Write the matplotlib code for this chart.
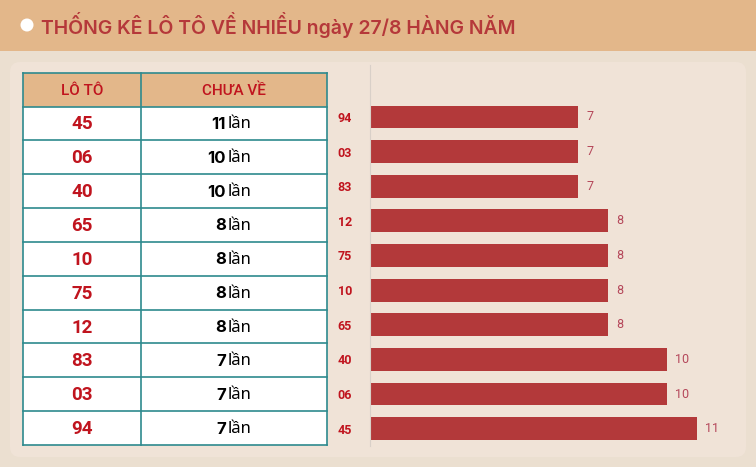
import matplotlib.pyplot as plt
from matplotlib.patches import Rectangle, FancyBboxPatch, Circle

# data (table order, top to bottom)
lo_to = ["45", "06", "40", "65", "10", "75", "12", "83", "03", "94"]
so_lan = [11, 10, 10, 8, 8, 8, 8, 7, 7, 7]
title = "THỐNG KÊ LÔ TÔ VỀ NHIỀU ngày 27/8 HÀNG NĂM"
headers = ["LÔ TÔ", "CHƯA VỀ"]

W, H = 756, 467
RED = "#C0141E"
BAR = "#B3393A"
TEAL = "#2E8A8E"
TAN = "#E3B78A"

plt.rcParams['font.family'] = ['Roboto', 'DejaVu Sans']

fig = plt.figure(figsize=(W / 100, H / 100), dpi=100)
fig.patch.set_facecolor("#EBDFD0")

# background layer in pixel coords
bg = fig.add_axes([0, 0, 1, 1])
bg.set_xlim(0, W)
bg.set_ylim(H, 0)
bg.axis("off")

bg.add_patch(Rectangle((0, 0), W, 51, facecolor=TAN, edgecolor="none"))
bg.add_patch(Circle((27, 25), 6.5, facecolor="white", edgecolor="none"))
bg.text(41, 25, title, color="#B5383A", fontsize=14, va="center", ha="left",
        family=["Inter", "DejaVu Sans"], fontweight="semibold")

bg.add_patch(FancyBboxPatch((10, 62), 736, 395, boxstyle="round,pad=0,rounding_size=10",
                            facecolor="#F0E3D7", edgecolor="none"))

# table
x0, x1, x2 = 23, 141, 327
top, head_h, row_h = 73, 33.5, 33.85
bg.add_patch(Rectangle((x0, top), x2 - x0, head_h, facecolor=TAN, edgecolor="none"))
n = len(lo_to)
bg.add_patch(Rectangle((x0, top + head_h), x2 - x0, row_h * n, facecolor="white", edgecolor="none"))
y_end = top + head_h + row_h * n
for xx in (x0, x1, x2):
    bg.plot([xx, xx], [top, y_end], color=TEAL, lw=1.2)
bg.plot([x0, x2], [top, top], color=TEAL, lw=1.2)
for i in range(n + 1):
    yy = top + head_h + i * row_h
    bg.plot([x0, x2], [yy, yy], color=TEAL, lw=1.2)

bg.text((x0 + x1) / 2, top + head_h / 2 + 1, headers[0], color=RED, fontsize=11,
        ha="center", va="center", fontweight="medium")
bg.text((x1 + x2) / 2, top + head_h / 2 + 1, headers[1], color=RED, fontsize=11,
        ha="center", va="center", fontweight="medium")

for i, (lo, c) in enumerate(zip(lo_to, so_lan)):
    yc = top + head_h + (i + 0.5) * row_h + 1
    bg.text((x0 + x1) / 2, yc, lo, color=RED, fontsize=13.5,
            ha="center", va="center", fontweight="bold")
    bg.text(226, yc, str(c), color="black", fontsize=12, ha="right", va="center",
            fontweight="bold", family=["Inter", "DejaVu Sans"])
    bg.text(228, yc, "lần", color="black", fontsize=12, ha="left", va="center",
            family=["Noto Sans", "DejaVu Sans"], fontweight="light")

# bar chart
ax = fig.add_axes([370 / W, 1 - 446 / H, (746 - 370) / W, (446 - 65) / H])
ax.patch.set_alpha(0)
ys = list(range(n))
ax.barh(ys, so_lan, height=0.66, color=BAR)
for y, v in zip(ys, so_lan):
    ax.text(v + 0.27, y, str(v), color="#B5475A", fontsize=9, va="center", ha="left")
ax.set_yticks(ys)
ax.set_yticklabels(lo_to, color=RED, fontsize=9, fontweight="bold")
ax.set_xlim(0, 12.65)
ax.set_ylim(-0.5, 10.5)
ax.set_xticks([])
ax.tick_params(axis="y", length=0, pad=13)
for s in ("top", "right", "bottom"):
    ax.spines[s].set_visible(False)
ax.spines["left"].set_color("#D9D0C8")

fig.savefig("out.png", dpi=100, facecolor=fig.get_facecolor())
